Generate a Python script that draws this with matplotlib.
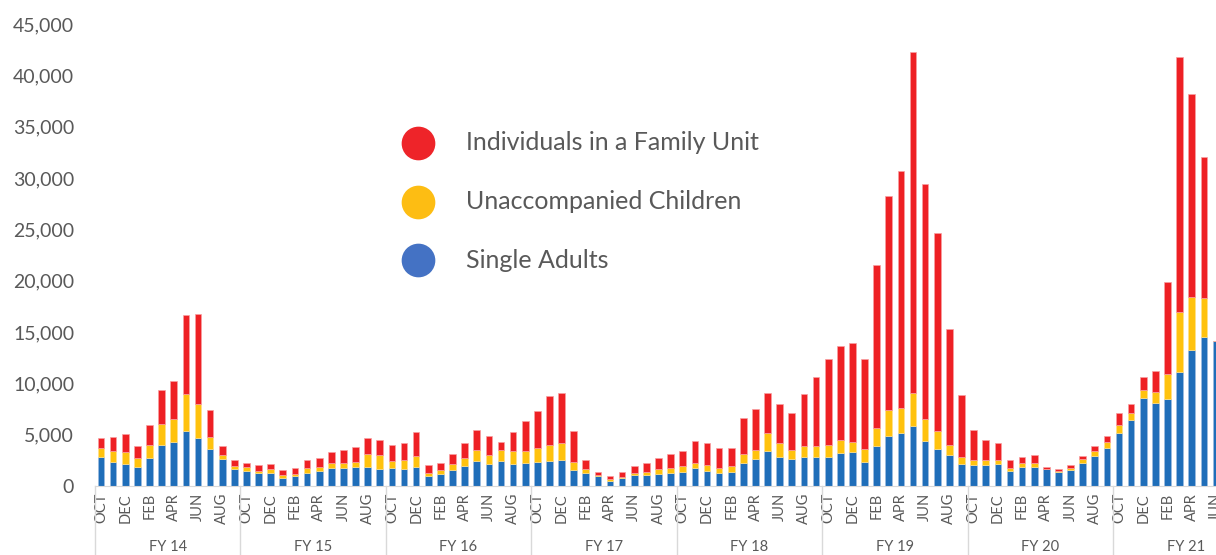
import matplotlib

matplotlib.use("Agg")
import matplotlib.pyplot as plt
import numpy as np

plt.rcParams["font.family"] = ["Lato", "DejaVu Sans"]

# monthly encounters, FY14 OCT .. FY21 JUN
fiscal_years = ["FY 14", "FY 15", "FY 16", "FY 17", "FY 18", "FY 19", "FY 20", "FY 21"]
month_names = ["OCT", "NOV", "DEC", "JAN", "FEB", "MAR", "APR", "MAY", "JUN", "JUL", "AUG", "SEP"]

single_adults = [
    2850, 2360, 2170, 1850, 2720, 3980, 4310, 5310, 4700, 3600, 2590, 1620,
    1460, 1260, 1300, 810, 940, 1300, 1490, 1750, 1720, 1820, 1820, 1620,
    1720, 1650, 1850, 940, 1170, 1550, 1940, 2460, 2170, 2460, 2170, 2270,
    2360, 2460, 2530, 1580, 1300, 940, 510, 810, 1040, 1040, 1170, 1260,
    1390, 1720, 1460, 1260, 1390, 2270, 2620, 3400, 2820, 2590, 2820, 2820,
    2850, 3240, 3300, 2360, 3890, 4890, 5150, 5800, 4400, 3600, 3040, 2140,
    2070, 2010, 2140, 1490, 1820, 1820, 1620, 1390, 1530, 2270, 2920, 3720,
    5180, 6410, 8550, 8040, 8430, 11110, 13220, 14510, 14090,
]
unaccompanied = [
    870, 1040, 1100, 870, 1290, 2050, 2200, 3700, 3240, 1130, 390, 350,
    360, 200, 320, 230, 230, 420, 330, 520, 550, 540, 1320, 1390,
    740, 880, 1070, 290, 380, 590, 750, 1040, 840, 1040, 1230, 1130,
    1360, 1550, 1620, 780, 320, 100, 200, 90, 190, 320, 450, 460,
    520, 550, 580, 460, 520, 870, 880, 1780, 1330, 910, 1100, 1100,
    1130, 1230, 1010, 1240, 1780, 2500, 2430, 3270, 2080, 1770, 970, 650,
    460, 520, 390, 290, 390, 450, 60, 100, 190, 320, 480, 530,
    750, 660, 850, 1120, 2520, 5830, 5180, 3790, 0,  # JUN FY21: only its edge shows
]
family_units = [
    910, 1360, 1780, 1140, 1920, 3370, 3690, 7610, 8810, 2660, 910, 560,
    450, 610, 550, 490, 550, 810, 900, 1030, 1260, 1400, 1490, 1430,
    1500, 1650, 2300, 810, 720, 1000, 1490, 1910, 1820, 810, 1820, 2890,
    3540, 4740, 4920, 2960, 910, 350, 230, 490, 710, 910, 1100, 1360,
    1490, 2130, 2140, 2000, 1810, 3500, 3980, 3890, 3790, 3660, 5050, 6700,
    8430, 9140, 9620, 8810, 15810, 20890, 23130, 33230, 22940, 19250, 11250, 6070,
    2910, 1940, 1680, 720, 640, 770, 170, 190, 350, 360, 520, 610,
    1140, 870, 1220, 2020, 8910, 24850, 19820, 13700, 0,
]

series_labels = ["Individuals in a Family Unit", "Unaccompanied Children", "Single Adults"]
BAR_COLORS = {"fmua": "#EE2024", "uac": "#FFC20E", "sa": "#1F6EB9"}
DOT_COLORS = ["#EE2429", "#FDBD13", "#4472C4"]
GRAY = "#595959"
LINE = "#D9D9D9"

x = np.arange(len(single_adults))
sa = np.array(single_adults)
uac = np.array(unaccompanied)
fam = np.array(family_units)

fig = plt.figure(figsize=(12.16, 5.55), dpi=100)
ax = fig.add_axes([0.0781, 0.1243, 0.9219, 0.8324])

w = 0.55
edge = dict(linewidth=0.5)
ax.bar(x, sa, w, color=BAR_COLORS["sa"], edgecolor="#9DBCE0", **edge)
ax.bar(x, uac, w, bottom=sa, color=BAR_COLORS["uac"], edgecolor="#FFE08A", **edge)
ax.bar(x, fam, w, bottom=sa + uac, color=BAR_COLORS["fmua"], edgecolor="#F8A0A2", **edge)

ax.set_ylim(0, 45000)
ax.set_xlim(-0.5, 91.9)
ax.set_yticks(np.arange(0, 45001, 5000))
ax.set_yticklabels([f"{v:,}" for v in range(0, 45001, 5000)])
ax.tick_params(axis="y", length=0, pad=15, labelsize=14, labelcolor=GRAY)

# month labels, every other month like the source
month_labels = [month_names[i % 12] for i in range(len(x))]
ax.set_xticks(x[::2])
ax.set_xticklabels(month_labels[::2], rotation=90, va="top", ha="center")
ax.tick_params(axis="x", length=0, pad=5, labelsize=10.5, labelcolor=GRAY)

for s in ("top", "right", "left"):
    ax.spines[s].set_visible(False)
ax.spines["bottom"].set_color(LINE)

# fiscal-year grouping row
trans = ax.get_xaxis_transform()
for k in range(len(fiscal_years) + 1):
    ax.plot([12 * k - 0.5] * 2, [0, -0.16], color=LINE, lw=1, transform=trans, clip_on=False)
for k, fy in enumerate(fiscal_years):
    ax.text(12 * k + 5.5, -0.132, fy, transform=trans, ha="center", va="center",
            fontsize=10.5, color=GRAY, clip_on=False)

# legend drawn by hand: big dots + labels in the middle of the plot
for i, (lab, c) in enumerate(zip(series_labels, DOT_COLORS)):
    yf = 1 - (143 + 58.5 * i) / 555
    ax.scatter([417.5 / 1216], [yf], s=540, color=c, transform=fig.transFigure, clip_on=False)
    fig.text(466 / 1216, yf, lab, fontsize=18, color=GRAY, va="center", ha="left")

fig.savefig("out.png", dpi=100)
